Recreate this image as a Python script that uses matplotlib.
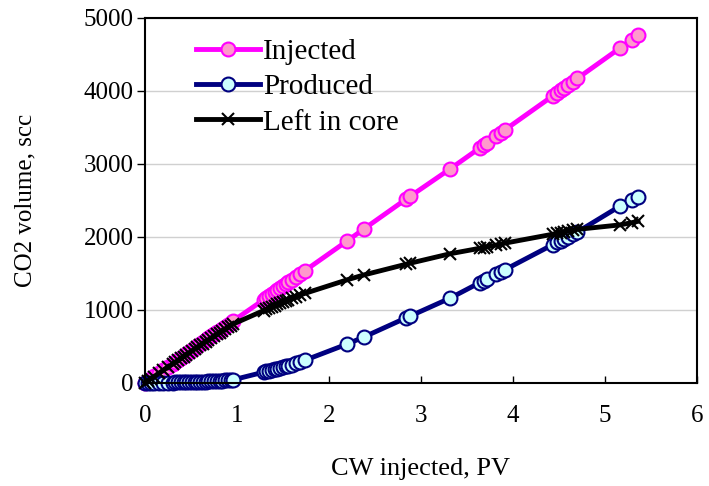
import matplotlib
matplotlib.use("Agg")
import matplotlib.pyplot as plt

plt.rcParams["font.family"] = ["Liberation Serif", "DejaVu Serif"]

# CW injected, PV
pv = [0, 0.03, 0.06, 0.10, 0.15, 0.20, 0.25, 0.30, 0.33, 0.36, 0.39, 0.42, 0.45,
      0.48, 0.51, 0.54, 0.57, 0.60, 0.63, 0.66, 0.69, 0.72, 0.75, 0.78, 0.81,
      0.84, 0.87, 0.90, 0.93, 0.96, 1.29, 1.32, 1.35, 1.38, 1.41, 1.44, 1.47,
      1.50, 1.53, 1.56, 1.60, 1.64, 1.68, 1.74, 2.20, 2.38, 2.84, 2.88, 3.32,
      3.64, 3.68, 3.72, 3.82, 3.87, 3.91, 4.43, 4.48, 4.52, 4.56, 4.60, 4.65,
      4.70, 5.16, 5.29, 5.36]

# CO2 volume, scc
injected = [0, 25, 55, 90, 135, 180, 222, 265, 292, 318, 345, 372, 398, 425,
            452, 478, 505, 532, 558, 585, 612, 638, 665, 692, 718, 745, 772,
            798, 825, 852, 1140, 1167, 1193, 1220, 1247, 1273, 1300, 1327,
            1353, 1380, 1415, 1450, 1486, 1540, 1948, 2110, 2520, 2555, 2935,
            3220, 3255, 3292, 3385, 3428, 3465, 3930, 3975, 4010, 4045, 4082,
            4125, 4172, 4585, 4700, 4765]
produced = [0, 0, 0, 2, 3, 4, 5, 6, 7, 8, 9, 10, 11, 12, 13, 14, 15, 17, 18,
            20, 21, 23, 25, 27, 29, 31, 34, 37, 40, 44, 148, 158, 168, 178,
            188, 198, 208, 218, 228, 238, 252, 268, 284, 312, 534, 630, 893,
            915, 1164, 1375, 1400, 1428, 1495, 1525, 1550, 1893, 1925, 1950,
            1975, 2000, 2035, 2068, 2420, 2505, 2550]
left_in_core = [0, 25, 55, 88, 132, 176, 217, 259, 285, 310, 336, 362, 387,
                413, 439, 464, 490, 515, 540, 565, 591, 615, 640, 665, 689,
                714, 738, 761, 785, 808, 992, 1009, 1025, 1042, 1059, 1075,
                1092, 1109, 1125, 1142, 1163, 1182, 1202, 1228, 1414, 1480,
                1627, 1640, 1771, 1845, 1855, 1864, 1890, 1903, 1915, 2037,
                2050, 2060, 2070, 2082, 2090, 2104, 2165, 2195, 2215]

fig = plt.figure(figsize=(7.09, 4.86), dpi=100)
ax = fig.add_axes([0.2045, 0.212, 0.7785, 0.751])

ax.plot(pv, injected, color="#FF00FF", lw=3.5, marker="o", ms=10,
        mfc="#FF99CC", mec="#FF00FF", mew=1.5, label="Injected", clip_on=False)
ax.plot(pv, produced, color="#000080", lw=3.5, marker="o", ms=10,
        mfc="#CCFFFF", mec="#000080", mew=1.5, label="Produced", clip_on=False)
ax.plot(pv, left_in_core, color="black", lw=3.5, marker="x", ms=9,
        mew=1.5, label="Left in core", clip_on=False)

ax.set_xlim(0, 6)
ax.set_ylim(0, 5000)
ax.set_xticks(range(0, 7))
ax.set_yticks(range(0, 5001, 1000))
ax.yaxis.grid(True, color="#D0D0D0", lw=1)
ax.set_axisbelow(True)
for s in ax.spines.values():
    s.set_linewidth(1.5)
ax.tick_params(axis="x", direction="in", length=5, width=1, labelsize=18, pad=16)
ax.tick_params(axis="y", direction="out", length=6, width=1, labelsize=18, pad=2)

ax.set_xlabel("CW injected, PV", fontsize=19, labelpad=22)
ax.set_ylabel("CO2 volume, scc", fontsize=18, labelpad=34)

ax.legend(loc="upper left", bbox_to_anchor=(0.045, 1.015), frameon=False,
          fontsize=21, handlelength=2.2, handletextpad=0.1, labelspacing=0.3)

fig.savefig("out.png")
